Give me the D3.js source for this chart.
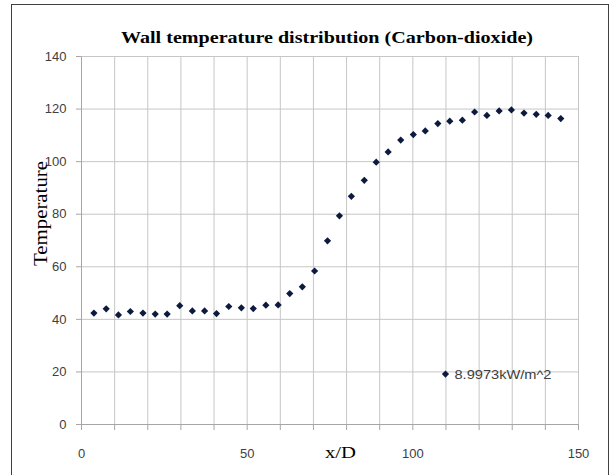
<!DOCTYPE html>
<html>
<head>
<meta charset="utf-8">
<script src="https://cdn.jsdelivr.net/npm/d3@7"></script>
<style>
	body { margin: 0; background: #fff; }
	svg { display: block; }
	.tick text { font-family: Arial, 'Liberation Sans', sans-serif; font-size: 13px; fill: #404040; }
</style>
</head>
<body>
<div id="chart"></div>
<script>
let width = 611
let height = 475

// x/D positions of the thermocouples
let xValues = [3.9, 7.6, 11.3, 14.9, 18.7, 22.4, 26.0, 29.8, 33.6, 37.3,
	40.9, 44.6, 48.4, 52.0, 55.8, 59.5, 63.0, 66.8, 70.5, 74.4,
	78.0, 81.6, 85.5, 89.1, 92.7, 96.5, 100.3, 103.9, 107.7, 111.3,
	115.1, 118.8, 122.5, 126.2, 129.9, 133.7, 137.4, 141.0, 144.8]

// wall temperature
let temperatures = [42.2, 43.8, 41.5, 42.8, 42.2, 41.8, 41.8, 45.0, 43.0, 43.0,
	42.0, 44.7, 44.2, 43.9, 45.2, 45.3, 49.6, 52.2, 58.2, 69.7,
	79.2, 86.6, 92.7, 99.6, 103.5, 108.0, 110.1, 111.5, 114.3, 115.2,
	115.6, 118.7, 117.4, 119.1, 119.5, 118.3, 117.8, 117.4, 116.2]

let xTicks = [0, 10, 20, 30, 40, 50, 60, 70, 80, 90, 100, 110, 120, 130, 140, 150]
let xTickLabels = [0, 50, 100, 150]
let yTicks = [0, 20, 40, 60, 80, 100, 120, 140]

let seriesName = '8.9973kW/m^2'
let legendPoint = [110, 19]

let margins = {
	'top': 56,
	'right': 33,
	'bottom': 51,
	'left': 81,
}

let xScale = d3.scaleLinear()
	.domain([0, 150])
	.range([margins.left, width - margins.right])

let yScale = d3.scaleLinear()
	.domain([0, 140])
	.range([height - margins.bottom, margins.top])

let svg = d3.select('#chart').append('svg')
	.attr('width', width)
	.attr('height', height)

// outer chart frame
svg.append('rect')
	.attr('x', 11.5)
	.attr('y', 4.5)
	.attr('width', 597)
	.attr('height', 480)
	.attr('fill', 'none')
	.attr('stroke', '#404040')

// gridlines
let grid = svg.append('g')

grid.append('g')
	.attr('transform', `translate(0,${height - margins.bottom})`)
	.call(d3.axisBottom(xScale)
		.tickValues(xTicks)
		.tickSize(-(height - margins.top - margins.bottom))
		.tickFormat(''))
	.call(g => g.select('.domain').remove())
	.selectAll('line').attr('stroke', '#c6c6c6')

grid.append('g')
	.attr('transform', `translate(${margins.left},0)`)
	.call(d3.axisLeft(yScale)
		.tickValues(yTicks)
		.tickSize(-(width - margins.left - margins.right))
		.tickFormat(''))
	.call(g => g.select('.domain').remove())
	.selectAll('line').attr('stroke', '#c6c6c6')

// axes
let xAxis = d3.axisBottom(xScale)
	.tickValues(xTicks)
	.tickSizeInner(6)
	.tickSizeOuter(0)
	.tickPadding(18.5)
	.tickFormat(d => xTickLabels.includes(d) ? d : '')

let yAxis = d3.axisLeft(yScale)
	.tickValues(yTicks)
	.tickSizeInner(5)
	.tickSizeOuter(0)
	.tickPadding(9.5)

svg.append('g')
	.attr('transform', `translate(0,${height - margins.bottom})`)
	.call(xAxis)
	.call(g => g.selectAll('line, path').attr('stroke', '#a6a6a6'))

svg.append('g')
	.attr('transform', `translate(${margins.left},0)`)
	.call(yAxis)
	.call(g => g.selectAll('line, path').attr('stroke', '#a6a6a6'))

// titles
svg.append('text')
	.attr('x', 327)
	.attr('y', 43)
	.attr('text-anchor', 'middle')
	.attr('font-family', "'Liberation Serif', 'Times New Roman', serif")
	.attr('font-weight', 'bold')
	.attr('font-size', 17.5)
	.attr('textLength', 412)
	.attr('lengthAdjust', 'spacingAndGlyphs')
	.text('Wall temperature distribution (Carbon-dioxide)')

svg.append('text')
	.attr('transform', 'translate(47,213.5) rotate(-90)')
	.attr('text-anchor', 'middle')
	.attr('font-family', "'Liberation Serif', 'Times New Roman', serif")
	.attr('font-size', 18)
	.attr('textLength', 105)
	.attr('lengthAdjust', 'spacingAndGlyphs')
	.text('Temperature')

svg.append('text')
	.attr('x', 340.5)
	.attr('y', 457.5)
	.attr('text-anchor', 'middle')
	.attr('font-family', "'Liberation Serif', 'Times New Roman', serif")
	.attr('font-size', 17)
	.attr('textLength', 31)
	.attr('lengthAdjust', 'spacingAndGlyphs')
	.text('x/D')

// points
let diamond = d3.symbol().type(d3.symbolSquare).size(26)

let data = xValues.map((x, i) => ({ x: x, t: temperatures[i] }))

svg.append('g').selectAll('path')
	.data(data)
	.enter().append('path')
	.attr('d', diamond)
	.attr('transform', d => `translate(${xScale(d.x)},${yScale(d.t)}) rotate(45)`)
	.attr('fill', '#0b1a3d')

// legend
svg.append('path')
	.attr('d', diamond)
	.attr('transform', `translate(${xScale(legendPoint[0])},${yScale(legendPoint[1])}) rotate(45)`)
	.attr('fill', '#0b1a3d')

svg.append('text')
	.attr('x', xScale(legendPoint[0]) + 9)
	.attr('y', yScale(legendPoint[1]) + 4.5)
	.attr('font-family', "Arial, 'Liberation Sans', sans-serif")
	.attr('font-size', 13)
	.attr('fill', '#404040')
	.attr('textLength', 97)
	.attr('lengthAdjust', 'spacingAndGlyphs')
	.text(seriesName)
</script>
</body>
</html>
